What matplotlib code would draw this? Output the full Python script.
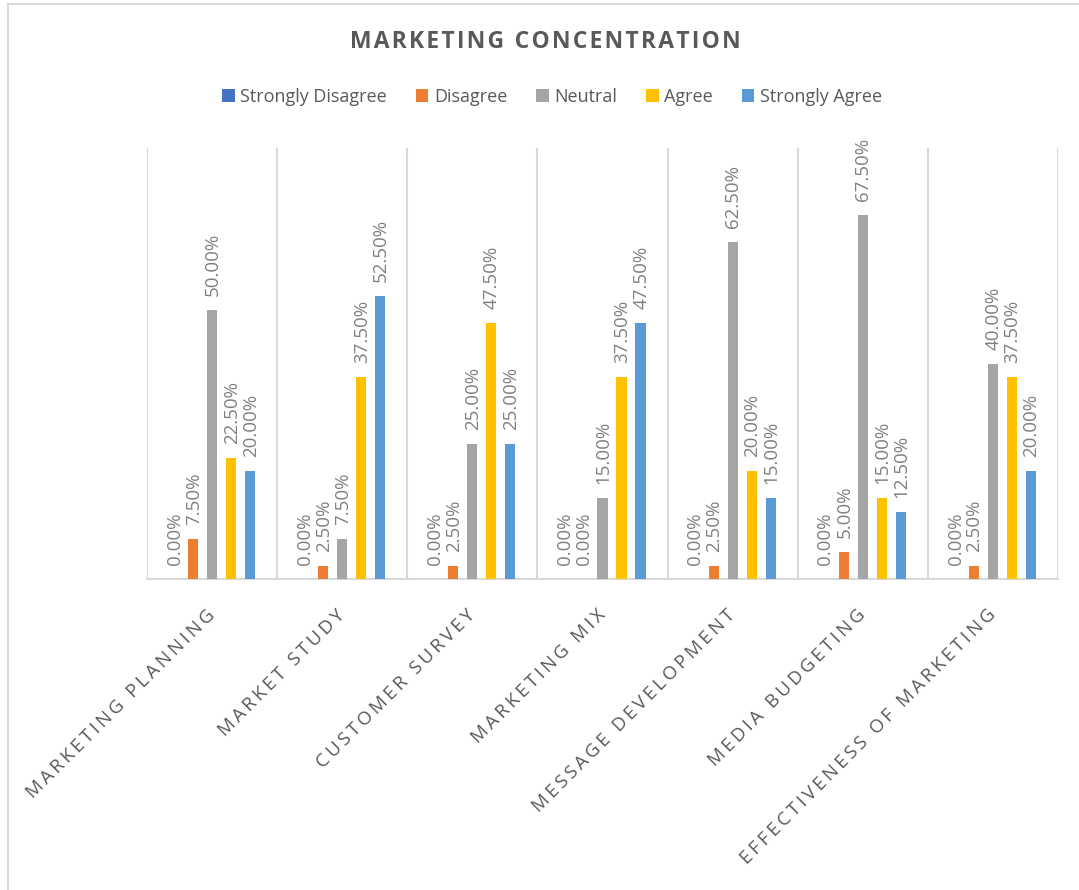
import matplotlib
matplotlib.use("Agg")
import matplotlib.pyplot as plt
from matplotlib.patches import Patch
from matplotlib.lines import Line2D
import numpy as np

categories = ["MARKETING PLANNING", "MARKET STUDY", "CUSTOMER SURVEY", "MARKETING MIX",
              "MESSAGE DEVELOPMENT", "MEDIA BUDGETING", "EFFECTIVENESS OF MARKETING"]
series_names = ["Strongly Disagree", "Disagree", "Neutral", "Agree", "Strongly Agree"]
strongly_disagree = [0.0, 0.0, 0.0, 0.0, 0.0, 0.0, 0.0]
disagree = [7.5, 2.5, 2.5, 0.0, 2.5, 5.0, 2.5]
neutral = [50.0, 7.5, 25.0, 15.0, 62.5, 67.5, 40.0]
agree = [22.5, 37.5, 47.5, 37.5, 20.0, 15.0, 37.5]
strongly_agree = [20.0, 52.5, 25.0, 47.5, 15.0, 12.5, 20.0]
title = "MARKETING CONCENTRATION"

colors = ["#4472C4", "#ED7D31", "#A5A5A5", "#FFC000", "#5B9BD5"]
series = [strongly_disagree, disagree, neutral, agree, strongly_agree]

FONT = ["Open Sans", "DejaVu Sans"]
plt.rcParams["font.family"] = FONT

def spaced(s, sep="\u200a"):
    return sep.join(s)

W, H = 1079, 890
fig = plt.figure(figsize=(W / 100, H / 100), dpi=100)

# chart-area frame (top and left visible)
fig.add_artist(Line2D([8 / W, 8 / W], [0, 1 - 4 / H], transform=fig.transFigure, color="#D9D9D9", lw=1.5))
fig.add_artist(Line2D([8 / W, 1], [1 - 4 / H, 1 - 4 / H], transform=fig.transFigure, color="#D9D9D9", lw=1.5))

left, right, bottom, top = 147 / W, 1058 / W, 1 - 579 / H, 1 - 148 / H
ax = fig.add_axes([left, bottom, right - left, top - bottom])

n = len(categories)
x = np.arange(n)
step = 0.146
bw = 0.077
for k, (name, vals, c) in enumerate(zip(series_names, series, colors)):
    xs = x + (k - 2) * step
    ax.bar(xs, vals, width=bw, color=c, label=name, zorder=3)
    for xi, v in zip(xs, vals):
        ax.annotate(f"{v:.2f}%", (xi, v), xytext=(0.5, 10), textcoords="offset points",
                    rotation=90, ha="center", va="bottom", fontsize=13.5, color="#808080")

ax.set_xlim(-0.5, n - 0.5)
ax.set_ylim(0, 80)
ax.set_yticks([])
for s in ["top", "right", "left"]:
    ax.spines[s].set_visible(False)
ax.spines["bottom"].set_color("#D9D9D9")
ax.spines["bottom"].set_linewidth(1.5)
for b in np.arange(-0.5, n + 0.5, 1.0):
    ax.axvline(b, color="#D9D9D9", lw=1.5, zorder=1)

ax.set_xticks(x)
ax.set_xticklabels([spaced(c, "\u2009") for c in categories], rotation=45, ha="right",
                   va="center", rotation_mode="anchor", fontsize=13.5, color="#595959")
ax.tick_params(axis="x", length=0, pad=24)

fig.text(545 / W, 1 - 42 / H, spaced(title, "\u200a"), ha="center", va="center",
         fontsize=16.5, fontweight="bold", color="#595959")

handles = [Patch(facecolor=c, edgecolor="none") for c in colors]
fig.legend(handles, series_names, loc="center", bbox_to_anchor=(552 / W, 1 - 97 / H), ncol=5,
           frameon=False, fontsize=13, labelcolor="#595959", handlelength=0.7, handleheight=0.7,
           handletextpad=0.3, columnspacing=1.6)

fig.savefig("out.png", dpi=100)
